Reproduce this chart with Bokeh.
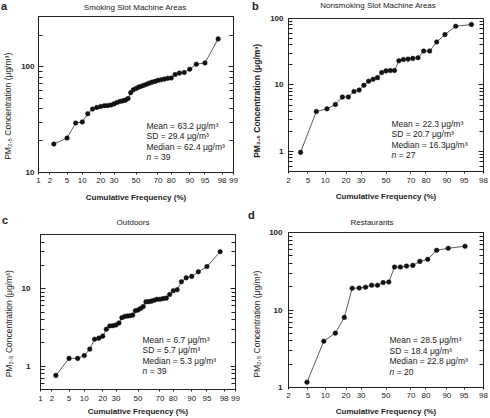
from statistics import NormalDist
from bokeh.plotting import figure
from bokeh.layouts import row, column
from bokeh.models import (ColumnDataSource, FixedTicker, CustomJSTickFormatter,
                          LogAxis, Label, Range1d, Div)
from bokeh.embed import file_html
from bokeh.resources import INLINE

FONT = "Liberation Sans"
INK = "#222222"

# ---------------- data ----------------
x_ticks_wide = [1, 2, 5, 10, 20, 30, 50, 70, 80, 90, 95, 98, 99]
x_ticks_narrow = [2, 5, 10, 20, 30, 50, 70, 80, 90, 95, 98]

freq_smoking = [2.5, 5.0, 7.5, 10.0, 12.5, 15.0, 17.5, 20.0, 22.5, 25.0, 27.5, 30.0,
                32.5, 35.0, 37.5, 40.0, 42.5, 45.0, 47.5, 50.0, 52.5, 55.0, 57.5, 60.0,
                62.5, 65.0, 67.5, 70.0, 72.5, 75.0, 77.5, 80.0, 82.5, 85.0, 87.5, 90.0,
                92.5, 95.0, 97.5]
conc_smoking = [18.6, 21.2, 29.4, 30.1, 36.0, 39.9, 41.3, 42.2, 42.9, 43.0, 43.6, 44.6,
                46.0, 47.0, 47.7, 48.4, 50.2, 57.0, 60.8, 62.4, 64.3, 65.6, 67.0, 68.5,
                70.2, 71.7, 72.9, 74.5, 75.6, 76.6, 77.9, 78.5, 84.7, 87.3, 88.6, 95.1,
                106.0, 109.0, 184.0]

freq_nonsmoking = [3.6, 7.1, 10.7, 14.3, 17.9, 21.4, 25.0, 28.6, 32.1, 35.7, 39.3, 42.9,
                   46.4, 50.0, 53.6, 57.1, 60.7, 64.3, 67.9, 71.4, 75.0, 78.6, 82.1, 85.7,
                   89.3, 92.9, 96.4]
conc_nonsmoking = [0.97, 3.99, 4.38, 5.09, 6.58, 6.6, 8.0, 8.4, 9.9, 11.4, 12.2, 12.9,
                   15.4, 16.3, 16.5, 16.5, 23.1, 24.2, 24.5, 25.1, 25.7, 32.4, 32.4, 44.3,
                   57.3, 76.5, 81.1]

freq_outdoors = [2.5, 5.0, 7.5, 10.0, 12.5, 15.0, 17.5, 20.0, 22.5, 25.0, 27.5, 30.0,
                 32.5, 35.0, 37.5, 40.0, 42.5, 45.0, 47.5, 50.0, 52.5, 55.0, 57.5, 60.0,
                 62.5, 65.0, 67.5, 70.0, 72.5, 75.0, 77.5, 80.0, 82.5, 85.0, 87.5, 90.0,
                 92.5, 95.0, 97.5]
conc_outdoors = [0.76, 1.26, 1.26, 1.37, 1.66, 2.23, 2.30, 2.44, 3.0, 3.3, 3.33, 3.4,
                 3.61, 4.22, 4.38, 4.43, 4.48, 4.56, 5.2, 5.3, 5.55, 5.89, 6.76, 6.8,
                 6.9, 7.1, 7.3, 7.3, 7.45, 7.55, 8.4, 9.4, 9.7, 12.3, 13.8, 14.4,
                 16.5, 19.3, 30.0]

freq_restaurants = [4.8, 9.5, 14.3, 19.0, 23.8, 28.6, 33.3, 38.1, 42.9, 47.6, 52.4, 57.1,
                    61.9, 66.7, 71.4, 76.2, 81.0, 85.7, 90.5, 95.2]
conc_restaurants = [1.17, 3.96, 5.03, 8.03, 19.1, 19.2, 19.7, 20.9, 20.9, 22.6, 23.0, 35.8,
                    35.8, 36.9, 37.6, 42.4, 45.1, 59.0, 62.6, 66.5]

titles = ["Smoking Slot Machine Areas", "Nonsmoking Slot Machine Areas", "Outdoors", "Restaurants"]
letters = ["a", "b", "c", "d"]
stats = [
    ["Mean = 63.2 μg/m³", "SD = 29.4 μg/m³", "Median = 62.4 μg/m³", "= 39"],
    ["Mean = 22.3 μg/m³", "SD = 20.7 μg/m³", "Median = 16.3μg/m³", "= 27"],
    ["Mean = 6.7 μg/m³", "SD = 5.7 μg/m³", "Median = 5.3 μg/m³", "= 39"],
    ["Mean = 28.5 μg/m³", "SD = 18.4 μg/m³", "Median = 22.8 μg/m³", "= 20"],
]
y_ranges = [(10, 300), (0.5, 100), (0.5, 50), (1, 100)]
y_major = [[10, 100], [1, 10, 100], [1, 10], [1, 10, 100]]
y_minor = [
    [20, 30, 40, 50, 60, 70, 80, 90, 200, 300],
    [0.5, 0.6, 0.7, 0.8, 0.9, 2, 3, 4, 5, 6, 7, 8, 9, 20, 30, 40, 50, 60, 70, 80, 90],
    [0.5, 0.6, 0.7, 0.8, 0.9, 2, 3, 4, 5, 6, 7, 8, 9, 20, 30, 40, 50],
    [2, 3, 4, 5, 6, 7, 8, 9, 20, 30, 40, 50, 60, 70, 80, 90],
]
y_title = "PM₂.₅ Concentration (μg/m³)"
x_title = "Cumulative Frequency (%)"


def probit(pct):
    return NormalDist().inv_cdf(pct / 100.0)


W, H = 245, 209
NBSP = "\u00a0"

# layout specs (pixels inside each panel)
layout = [
    dict(frame=(37, 233, 16, 172), xstand=3, xls=7, ystand=4, yls=5, ypad=10,
         letter=(1, 10), title=(135, 7.5), ylab_bold=False,
         st=(145, [125, 135.5, 146, 156.5])),
    dict(frame=(43, 238, 18, 171), xstand=4, xls=6, ystand=5, yls=5, ypad=5,
         letter=(7, 10.2), title=(133, 5.5), ylab_bold=True,
         st=(146, [123, 133.5, 144, 154.5])),
    dict(frame=(39, 235, 25, 181), xstand=4, xls=3, ystand=10, yls=5, ypad=10,
         letter=(2, 15.5), title=(133, 13.5), ylab_bold=False,
         st=(141, [131, 141.5, 152, 162.5])),
    dict(frame=(43, 238, 23, 179), xstand=3, xls=6, ystand=6, yls=4, ypad=12,
         letter=(3, 10.5), title=(127, 13.5), ylab_bold=False,
         st=(144, [131.5, 142, 152.5, 163])),
]

series = [
    (freq_smoking, conc_smoking, x_ticks_wide),
    (freq_nonsmoking, conc_nonsmoking, x_ticks_narrow),
    (freq_outdoors, conc_outdoors, x_ticks_wide),
    (freq_restaurants, conc_restaurants, x_ticks_narrow),
]

TOP_GAP = 3
LETTER_PX = 11


def make_header(k):
    spec = layout[k]
    T = spec["frame"][2]
    hh = T - TOP_GAP
    lx, ly = spec["letter"]
    tx, ty = spec["title"]
    html = (
        f'<div style="position:relative;width:{W}px;height:{hh}px;overflow:visible;'
        f'font-family:\'{FONT}\',sans-serif;color:{INK};">'
        f'<span style="position:absolute;left:{lx}px;top:{ly - 0.8465 * LETTER_PX:.1f}px;'
        f'font-size:{LETTER_PX}px;line-height:{LETTER_PX}px;font-weight:bold;">{letters[k]}</span>'
        f'<span style="position:absolute;left:{tx}px;top:{ty - 3.9:.1f}px;font-size:8px;'
        f'line-height:8px;white-space:nowrap;transform:translateX(-50%);">{titles[k]}</span>'
        '</div>'
    )
    return Div(text=html, width=W, height=hh, margin=(0, 0, 0, 0))


def make_panel(k):
    freq, conc, xt = series[k]
    spec = layout[k]
    L, R, T, B = spec["frame"]
    hh = T - TOP_GAP
    p = figure(width=W, height=H - hh, y_axis_type="log",
               x_range=Range1d(probit(xt[0]), probit(xt[-1])),
               y_range=Range1d(*y_ranges[k]),
               output_backend="svg", toolbar_location=None, title=None,
               min_border_left=L, min_border_right=W - R,
               min_border_top=TOP_GAP, min_border_bottom=H - B)
    p.xgrid.visible = False
    p.ygrid.visible = False
    p.outline_line_color = INK
    p.outline_line_width = 1
    p.background_fill_color = "white"
    p.border_fill_color = "white"

    src = ColumnDataSource(dict(z=[probit(f) for f in freq], conc=conc))
    p.line("z", "conc", source=src, line_color="#333333", line_width=0.8)
    p.scatter("z", "conc", source=src, size=4.6, fill_color="#111111", line_color="#111111",
              line_width=0.5)

    # bottom axis (probability scale)
    xa = p.xaxis[0]
    zt = [probit(t) for t in xt]
    xa.ticker = FixedTicker(ticks=zt, minor_ticks=[])
    xa.formatter = CustomJSTickFormatter(
        args=dict(zs=zt, labels=[str(t) for t in xt]),
        code="""
        let best = 0;
        for (let i = 0; i < zs.length; i++) {
            if (Math.abs(zs[i] - tick) < Math.abs(zs[best] - tick)) best = i;
        }
        return labels[best];
        """)
    xa.major_tick_in = 0
    xa.major_tick_out = 2
    xa.minor_tick_in = 0
    xa.minor_tick_out = 0
    xa.major_label_standoff = spec["xstand"]
    xa.major_label_text_font = FONT
    xa.major_label_text_font_size = "8px"
    xa.major_label_text_color = INK
    xa.axis_line_color = INK
    xa.major_tick_line_color = INK
    xa.axis_label = x_title
    xa.axis_label_text_font = FONT
    xa.axis_label_text_font_size = "8px"
    xa.axis_label_text_font_style = "bold"
    xa.axis_label_text_color = INK
    xa.axis_label_standoff = spec["xls"]

    # left axis
    ya = p.yaxis[0]
    ya.ticker = FixedTicker(ticks=y_major[k], minor_ticks=y_minor[k])
    ya.formatter = CustomJSTickFormatter(code="return String(tick);")
    ya.major_tick_in = 5
    ya.major_tick_out = 0
    ya.minor_tick_in = 4
    ya.minor_tick_out = 0
    ya.major_label_standoff = spec["ystand"]
    ya.major_label_text_font = FONT
    ya.major_label_text_font_size = "8px"
    ya.major_label_text_font_style = "bold"
    ya.major_label_text_color = INK
    ya.axis_line_color = INK
    ya.major_tick_line_color = INK
    ya.minor_tick_line_color = INK
    # trailing no-break spaces shift the centred label downwards, as in the reference
    ya.axis_label = y_title + NBSP * spec["ypad"]
    ya.axis_label_text_font = FONT
    ya.axis_label_text_font_size = "8.5px"
    ya.axis_label_text_font_style = "bold" if spec["ylab_bold"] else "normal"
    ya.axis_label_text_color = INK
    ya.axis_label_standoff = spec["yls"]

    # right axis: inward ticks only
    ra = LogAxis(ticker=FixedTicker(ticks=y_major[k], minor_ticks=y_minor[k]),
                 formatter=CustomJSTickFormatter(code="return '';"),
                 major_tick_in=5, major_tick_out=0, minor_tick_in=4, minor_tick_out=0,
                 major_label_standoff=0, major_label_text_font_size="0px",
                 axis_line_color=INK, major_tick_line_color=INK, minor_tick_line_color=INK)
    p.add_layout(ra, "right")

    def txt(x, y, text, size, style="normal"):
        p.add_layout(Label(x=x - L, y=B - y, x_units="screen", y_units="screen",
                           text=text, text_font=FONT, text_font_size=f"{size}px",
                           text_font_style=style, text_align="left",
                           text_baseline="middle", text_color=INK))

    sx, sys_ = spec["st"]
    lines = stats[k]
    for j in range(3):
        txt(sx, sys_[j], lines[j], 8.5)
    txt(sx, sys_[3], "n", 8.5, style="italic")
    txt(sx + 7.2, sys_[3], lines[3], 8.5)
    return column(make_header(k), p, spacing=0)


panels = [make_panel(k) for k in range(4)]
layout_root = column(row(panels[0], panels[1], spacing=0),
                     row(panels[2], panels[3], spacing=0), spacing=0)

open("out.html", "w").write(file_html(layout_root, INLINE))
